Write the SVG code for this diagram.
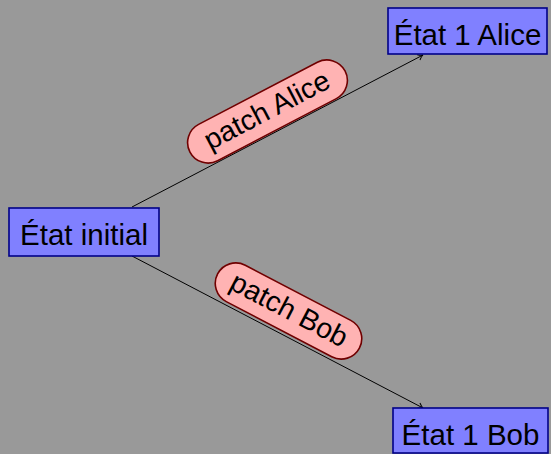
<svg xmlns="http://www.w3.org/2000/svg" width="551" height="454" viewBox="0 0 551 454">
  <defs>
    <style>
      .node rect { fill: #8080ff; stroke: #000088; stroke-width: 1.6; }
      .label rect { fill: #ffb3b3; stroke: #700000; stroke-width: 1.6; }
      text { font-family: "Liberation Sans", Arial, sans-serif; font-size: 29.5px; fill: #000; text-anchor: middle; }
      .label text { font-size: 28.5px; }
      .edge { stroke: #000; stroke-width: 1; fill: none; marker-end: url(#arrow); }
    </style>
    <marker id="arrow" viewBox="-6 -4 8 8" markerWidth="8" markerHeight="8" refX="0" refY="0" orient="auto" markerUnits="userSpaceOnUse">
      <path d="M -5,-3 Q -2,-0.5 0,0 Q -2,0.5 -5,3" fill="none" stroke="#000" stroke-width="1"/>
    </marker>
  </defs>
  <rect x="0" y="0" width="551" height="454" fill="#999999"/>

  <g id="connectors">
    <line class="edge" x1="132" y1="207" x2="423" y2="55"/>
    <line class="edge" x1="132" y1="256" x2="423" y2="408"/>
  </g>

  <g id="label-alice" class="label" transform="translate(267.5,111.5) rotate(-27.6)">
    <rect x="-87.5" y="-20.5" width="175" height="41" rx="20.5" ry="20.5"/>
    <text x="0" y="8">patch Alice</text>
  </g>

  <g id="label-bob" class="label" transform="translate(288.5,311) rotate(27.6)">
    <rect x="-80" y="-20.5" width="160" height="41" rx="20.5" ry="20.5"/>
    <text x="0" y="8">patch Bob</text>
  </g>

  <g id="etat-initial" class="node">
    <rect x="9" y="208" width="150" height="48"/>
    <text x="84" y="245">État initial</text>
  </g>

  <g id="etat-alice" class="node">
    <rect x="388" y="8" width="159" height="46"/>
    <text x="467.5" y="45">État 1 Alice</text>
  </g>

  <g id="etat-bob" class="node">
    <rect x="393" y="408" width="155" height="45"/>
    <text x="470.5" y="445">État 1 Bob</text>
  </g>
</svg>
